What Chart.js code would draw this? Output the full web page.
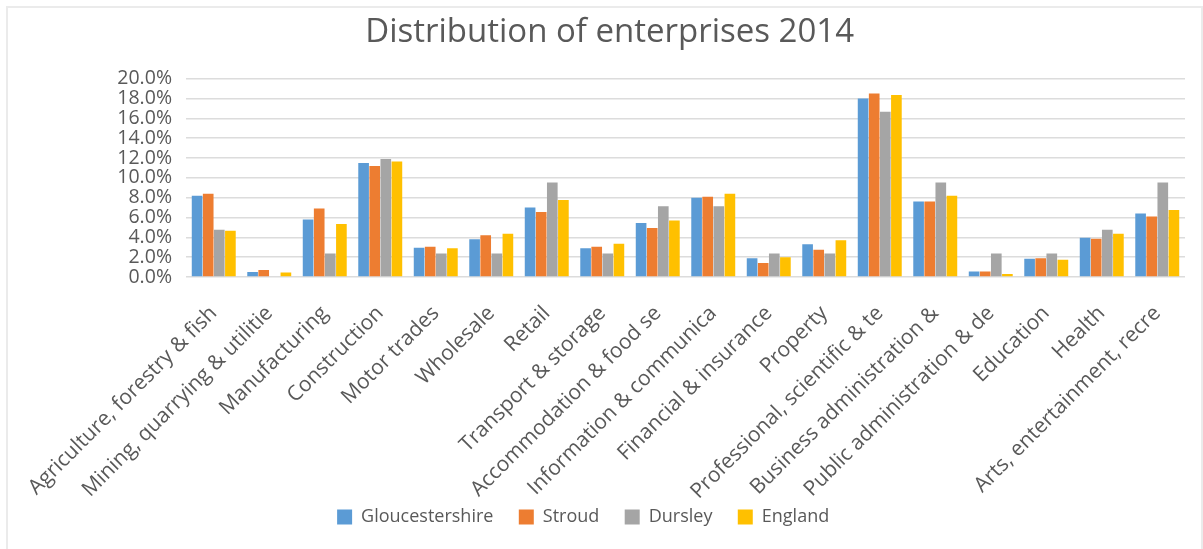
<!DOCTYPE html>
<html>
<head>
<meta charset="utf-8">
<script src="https://cdn.jsdelivr.net/npm/chart.js@4.4.1/dist/chart.umd.min.js"></script>
<style>
  html, body { margin: 0; padding: 0; background: #fff; }
  #wrap { position: relative; width: 1203px; height: 549px; }
  #frame { position: absolute; left: 6px; top: 6px; right: 0; bottom: -10px;
           border: 2px solid #ebebeb; pointer-events: none; }
</style>
</head>
<body>
<div id="wrap">
  <canvas id="entChart" width="1203" height="549"></canvas>
  <div id="frame"></div>
</div>
<script>
// categories as shown (Excel cuts the long ones)
const categories = [
  'Agriculture, forestry & fish', 'Mining, quarrying & utilitie', 'Manufacturing',
  'Construction', 'Motor trades', 'Wholesale', 'Retail', 'Transport & storage',
  'Accommodation & food se', 'Information & communica', 'Financial & insurance',
  'Property', 'Professional, scientific & te', 'Business administration &',
  'Public administration & de', 'Education', 'Health', 'Arts, entertainment, recre'
];

// share of enterprises, in %
const gloucestershire = [8.2, 0.5, 5.8, 11.5, 2.95, 3.8, 7.0, 2.9, 5.45, 8.0, 1.9, 3.3, 18.0, 7.6, 0.55, 1.85, 3.95, 6.4];
const stroud          = [8.4, 0.7, 6.9, 11.2, 3.05, 4.2, 6.55, 3.05, 4.95, 8.1, 1.4, 2.75, 18.5, 7.6, 0.55, 1.9, 3.85, 6.1];
const dursley         = [4.76, 0, 2.38, 11.9, 2.38, 2.38, 9.52, 2.38, 7.14, 7.14, 2.38, 2.38, 16.67, 9.52, 2.38, 2.38, 4.76, 9.52];
const england         = [4.65, 0.45, 5.35, 11.65, 2.9, 4.35, 7.75, 3.35, 5.7, 8.4, 2.0, 3.7, 18.35, 8.2, 0.3, 1.75, 4.35, 6.75];

const yMax = 20;
const yStep = 2;

const FONT = "'Open Sans', 'Liberation Sans', sans-serif";
const TXT = '#595959';

// legend padding is kept tiny so the tall rotated labels fit; the gap between
// items comes from trailing spaces instead (the last ones also shift it left a bit)
const legendGap = ['     ', '     ', '     ', '    '];

const ctx = document.getElementById('entChart').getContext('2d');
new Chart(ctx, {
    type: 'bar',
    data: {
        labels: categories,
        datasets: [
            { label: 'Gloucestershire', data: gloucestershire, backgroundColor: '#5b9bd5' },
            { label: 'Stroud', data: stroud, backgroundColor: '#ed7d31' },
            { label: 'Dursley', data: dursley, backgroundColor: '#a5a5a5' },
            { label: 'England', data: england, backgroundColor: '#ffc000' }
        ]
    },
    options: {
        responsive: false,
        animation: false,
        layout: { padding: { left: 0, right: 18, top: 0, bottom: 13 } },
        datasets: {
            bar: { categoryPercentage: 0.8, barPercentage: 0.96, borderWidth: 0 }
        },
        plugins: {
            title: {
                display: true,
                text: '    Distribution of enterprises 2014',
                color: TXT,
                font: { family: FONT, size: 33, weight: 'normal' },
                padding: { top: 13, bottom: 26 }
            },
            legend: {
                position: 'bottom',
                labels: {
                    color: TXT,
                    font: { family: FONT, size: 18 },
                    boxWidth: 15,
                    boxHeight: 15,
                    padding: 2,
                    generateLabels: (chart) => Chart.defaults.plugins.legend.labels
                        .generateLabels(chart)
                        .map((item, i) => ({ ...item, text: item.text + legendGap[i] }))
                }
            },
            tooltip: { enabled: false }
        },
        scales: {
            x: {
                grid: { display: false },
                border: { display: false },
                ticks: {
                    color: TXT,
                    font: { family: FONT, size: 21 },
                    minRotation: 45,
                    maxRotation: 45,
                    autoSkip: false,
                    padding: 16
                },
                afterFit: (scale) => { scale.height = 229; }
            },
            y: {
                min: 0,
                max: yMax,
                grid: { color: '#dcdcdc', lineWidth: 1.5, drawTicks: false },
                border: { display: false },
                ticks: {
                    stepSize: yStep,
                    autoSkip: false,
                    color: TXT,
                    font: { family: FONT, size: 19.5 },
                    padding: 14,
                    callback: (v) => v.toFixed(1) + '%'
                },
                afterFit: (scale) => { scale.width = 186; }
            }
        }
    }
});
</script>
</body>
</html>
